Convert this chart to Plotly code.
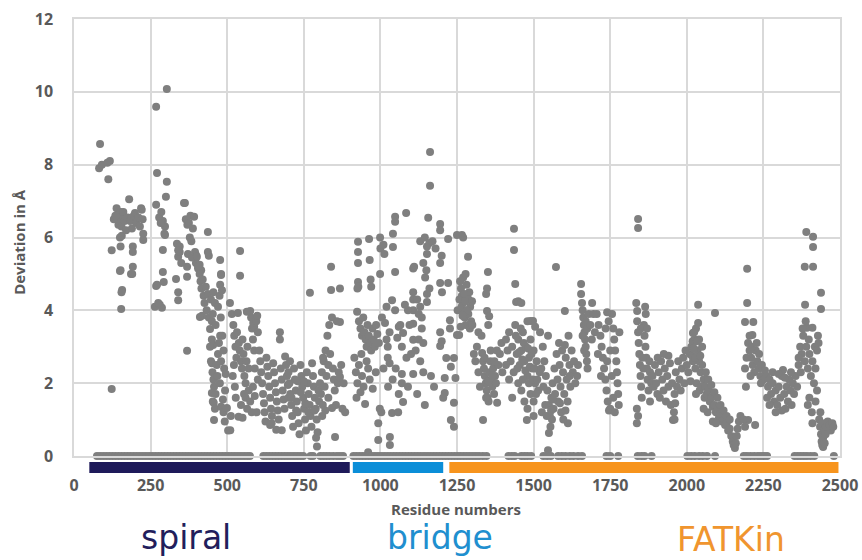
import plotly.graph_objects as go

# ---------------- data ----------------
# (residue number, deviation in Å)
spiral_pts = [
    (82, 7.9), (85, 8.57), (91, 8.0), (109, 8.05), (117, 8.1), (112, 7.6), (123, 1.84),
    (139, 6.8), (142, 6.6), (145, 6.35), (148, 6.5), (152, 6.7), (155, 6.3), (158, 6.6), (161, 6.7),
    (150, 6.0), (152, 5.75), (156, 6.05), (165, 6.45), (170, 6.2), (175, 6.55), (180, 7.05),
    (183, 6.45), (186, 6.5), (189, 6.25), (192, 5.75), (192, 5.6), (195, 6.6), (199, 6.67),
    (203, 6.4), (210, 6.55), (215, 6.3), (219, 6.8), (221, 6.76), (224, 6.5), (226, 6.1),
    (226, 5.93), (123, 5.65), (130, 6.5), (135, 6.6), (150, 5.08), (152, 5.1), (157, 4.56),
    (155, 4.5), (154, 4.04), (192, 5.2), (186, 5.0), (190, 5.0),
    (268, 9.59), (303, 10.08), (271, 7.77), (303, 7.53), (300, 7.12), (268, 6.9), (278, 6.55),
    (285, 6.7), (290, 6.45), (297, 6.3), (295, 6.1), (297, 6.07), (283, 6.4), (290, 5.66),
    (290, 5.05), (293, 4.78), (268, 4.67), (271, 4.7), (264, 4.1), (280, 4.15), (287, 4.07), (275, 4.2),
    (359, 6.95), (365, 6.5), (370, 6.35), (375, 6.4), (380, 6.6), (392, 6.57), (388, 6.25),
    (378, 6.0), (383, 5.9), (372, 5.55), (336, 5.83), (340, 5.47), (345, 5.6), (333, 4.86),
    (340, 4.5), (340, 4.28), (369, 5.2), (369, 4.92), (369, 2.89), (398, 5.52), (398, 5.3),
    (395, 5.6), (385, 5.45), (405, 5.15), (350, 5.3), (345, 5.75), (340, 5.65), (362, 6.95),
    (401, 5.47), (410, 5.25), (415, 5.1),
    (405, 5.2), (410, 5.0), (413, 4.8), (416, 4.6), (420, 4.85), (423, 4.4), (426, 4.2),
    (430, 4.65), (433, 4.0), (437, 6.15), (437, 4.45), (437, 5.6), (440, 5.5), (440, 3.8), (418, 3.85),
    (411, 3.82), (444, 3.49), (447, 4.3), (450, 3.7), (450, 3.2), (453, 3.9), (455, 4.5), (460, 4.2),
    (462, 3.6), (477, 5.38), (480, 5.0), (480, 4.97), (477, 4.7), (475, 4.4), (470, 4.1), (483, 4.55),
    (477, 3.3), (479, 3.8), (454, 3.05),
    (444, 3.0), (447, 2.6), (450, 2.55), (452, 2.3), (455, 2.1), (457, 1.9), (450, 1.73),
    (453, 1.5), (456, 1.46), (460, 1.3), (457, 0.99), (462, 1.7), (466, 2.5), (468, 2.2),
    (470, 2.8), (473, 3.1), (476, 2.0), (480, 2.6), (484, 3.3), (488, 2.9), (490, 2.4),
    (493, 1.8), (495, 2.25), (480, 1.35), (486, 1.55), (492, 0.95), (488, 1.2), (499, 1.32),
    (503, 0.7), (510, 0.71), (512, 1.1), (509, 4.2), (515, 3.9), (520, 3.6), (523, 3.3),
    (527, 3.0), (530, 2.7), (535, 3.93), (532, 3.4), (538, 3.1), (541, 2.9), (545, 2.6),
    (548, 2.4), (542, 5.63), (542, 4.95), (537, 1.08), (518, 2.2), (522, 2.5), (525, 1.9),
    (550, 3.2), (553, 2.8), (556, 2.2), (560, 2.0), (563, 2.6), (566, 3.0), (570, 2.4),
    (575, 3.98), (578, 3.8), (581, 3.5), (584, 3.2), (588, 3.55), (588, 2.9), (590, 2.4),
    (564, 3.96), (585, 3.65), (595, 3.7), (598, 3.85), (600, 3.4), (560, 1.6), (565, 1.3),
    (570, 1.8), (575, 1.5), (580, 1.2), (584, 1.9), (590, 1.65), (596, 1.2), (550, 1.05),
    (545, 1.4), (555, 1.7), (528, 1.6), (600, 2.1),
    (605, 2.9), (608, 2.6), (611, 2.3), (614, 2.0), (617, 1.7), (620, 1.45), (622, 1.2),
    (625, 0.95), (628, 2.7), (631, 2.45), (634, 2.2), (637, 1.9), (640, 1.6), (643, 1.3),
    (646, 1.1), (650, 2.55), (653, 2.3), (656, 2.0), (659, 1.75), (662, 1.5), (665, 1.25),
    (668, 1.0), (672, 3.4), (672, 3.2), (675, 2.4), (678, 2.1), (681, 1.8), (684, 1.55),
    (687, 1.3), (689, 2.73), (692, 2.5), (695, 2.2), (698, 1.95), (660, 0.72), (640, 0.85),
    (678, 0.71), (700, 1.6), (645, 0.9),
    (700, 2.3), (703, 2.0), (706, 1.7), (709, 1.4), (712, 1.1), (715, 0.8), (718, 2.4),
    (721, 2.1), (724, 1.8), (727, 1.5), (730, 1.2), (733, 0.9), (736, 0.6), (739, 2.5),
    (742, 2.2), (745, 1.9), (748, 1.6), (751, 1.3), (754, 1.0), (757, 0.7), (760, 2.3),
    (763, 2.0), (766, 1.7), (769, 1.4), (770, 4.48), (772, 1.1), (775, 0.8), (777, 2.55),
    (780, 2.2), (783, 1.9), (786, 1.6), (789, 1.3), (792, 1.0), (793, 0.26), (795, 0.65),
    (798, 1.8), (800, 1.5), (710, 1.6), (725, 1.25), (740, 1.75), (755, 1.45), (765, 1.2),
    (785, 1.25), (790, 0.5), (705, 2.6), (730, 2.05), (750, 2.05),
    (803, 2.0), (806, 1.7), (809, 2.3), (812, 1.4), (815, 2.6), (818, 1.9), (821, 2.9),
    (824, 2.2), (827, 3.3), (830, 2.5), (833, 3.6), (836, 2.8), (839, 5.2), (839, 4.56),
    (842, 3.8), (845, 2.4), (848, 2.1), (851, 1.8), (852, 0.52), (855, 1.4), (858, 3.7),
    (861, 2.0), (864, 2.3), (868, 4.6), (868, 3.68), (868, 2.17), (872, 2.5), (876, 1.3),
    (880, 2.0), (885, 1.2), (810, 1.1), (820, 1.25), (830, 1.6), (842, 1.32), (813, 2.7),
]

bridge_pts = [
    (927, 5.88), (927, 5.6), (927, 5.3), (927, 4.78), (925, 4.6), (963, 5.96), (965, 5.38),
    (968, 4.85), (970, 4.65), (999, 6.0), (1000, 5.7), (999, 5.0), (924, 3.96), (928, 4.65),
    (930, 3.7), (935, 3.5), (940, 3.3), (944, 3.8), (948, 3.4), (952, 3.2), (955, 3.0),
    (958, 3.6), (962, 3.3), (966, 3.1), (970, 2.9), (974, 3.5), (978, 3.2), (982, 3.0),
    (986, 3.6), (990, 3.35), (995, 3.1), (920, 2.3), (925, 2.0), (930, 2.5), (935, 1.75),
    (940, 2.2), (945, 1.9), (950, 1.43), (955, 2.6), (960, 2.4), (965, 2.1), (975, 1.85),
    (985, 2.3), (993, 0.9), (993, 0.44), (998, 1.3), (1003, 1.2), (960, 0.1), (915, 2.7),
    (922, 1.6), (938, 2.8), (1005, 3.8), (1020, 4.1),
    (1010, 5.8), (1013, 5.55), (1041, 5.74), (1041, 6.1), (1048, 6.57), (1048, 6.43), (1084, 6.67),
    (1107, 4.5), (1107, 4.3), (1048, 5.05), (1038, 4.28), (1048, 4.0), (1074, 3.38),
    (1107, 3.63), (1107, 4.0), (1090, 4.0), (1060, 3.55), (1030, 3.4), (1020, 3.2),
    (1055, 3.25), (1065, 3.6), (1070, 3.0), (1024, 3.0), (1024, 2.7), (1030, 2.55),
    (1010, 2.4), (1070, 2.0), (1070, 2.25), (1107, 2.25), (1107, 3.19), (1025, 1.9),
    (1074, 1.48), (1038, 1.18), (1058, 1.2), (1031, 0.52), (1031, 0.3), (1015, 3.65),
    (1080, 4.15), (1095, 3.6), (1085, 2.7), (1050, 2.4), (1040, 2.1), (1060, 1.7),
    (1090, 1.9), (1100, 2.8), (1107, 5.15),
    (1162, 8.35), (1162, 7.42), (1156, 6.54), (1195, 6.37), (1195, 6.2), (1152, 5.75),
    (1160, 5.85), (1170, 5.9), (1152, 5.55), (1221, 5.96), (1200, 5.5), (1195, 5.3),
    (1180, 5.7), (1146, 4.9), (1150, 5.1), (1195, 4.75), (1221, 4.75), (1152, 4.23),
    (1152, 4.45), (1160, 4.6), (1201, 4.5), (1195, 3.4), (1195, 3.02), (1200, 3.15),
    (1227, 3.73), (1227, 3.5), (1215, 2.69), (1240, 2.69), (1230, 2.45), (1210, 2.14),
    (1245, 2.14), (1210, 1.73), (1205, 1.6), (1240, 1.46), (1230, 0.99), (1240, 0.8),
    (1120, 4.3), (1130, 4.1), (1125, 3.9), (1135, 3.5), (1140, 3.1), (1125, 3.2),
    (1115, 2.9), (1130, 2.6), (1140, 2.3), (1120, 1.7), (1145, 1.4), (1135, 3.8),
    (1110, 5.2), (1140, 5.3), (1165, 2.2), (1175, 1.9), (1130, 5.9), (1145, 6.0),
]

fatkin_pts = [
    (1250, 6.07), (1266, 6.07), (1270, 6.0), (1286, 5.47), (1260, 4.8), (1263, 4.6),
    (1266, 4.4), (1269, 4.2), (1272, 4.0), (1275, 3.8), (1278, 3.6), (1281, 4.7),
    (1284, 4.3), (1287, 3.9), (1290, 4.5), (1293, 4.1), (1296, 3.7), (1299, 4.25),
    (1262, 3.55), (1270, 4.9), (1250, 3.32), (1257, 3.32), (1292, 3.5), (1300, 3.6),
    (1278, 5.0), (1258, 4.3), (1252, 4.0), (1265, 4.1), (1274, 4.45), (1282, 4.0),
    (1288, 4.3), (1276, 4.25), (1268, 3.85),
    (1351, 5.05), (1348, 4.6), (1345, 4.45), (1348, 3.98), (1355, 3.84), (1352, 3.6),
    (1332, 2.83), (1335, 2.6), (1338, 2.4), (1341, 2.2), (1344, 2.0), (1347, 1.8),
    (1350, 1.6), (1353, 1.5), (1356, 2.3), (1359, 2.6), (1362, 2.1), (1365, 1.9),
    (1368, 2.4), (1371, 1.7), (1374, 2.2), (1377, 2.0), (1381, 1.46), (1335, 0.99),
    (1345, 1.6), (1310, 2.6), (1315, 3.0), (1320, 2.3), (1325, 1.9), (1305, 2.8),
    (1385, 2.5), (1390, 2.8), (1395, 3.1), (1398, 2.3), (1320, 3.4), (1330, 3.3),
    (1360, 2.9), (1380, 2.9), (1340, 2.7), (1352, 2.05), (1366, 2.2), (1372, 2.6),
    (1436, 6.24), (1436, 5.66), (1440, 4.72), (1443, 4.23), (1450, 4.25), (1460, 4.2),
    (1498, 3.71), (1490, 3.71), (1480, 3.7), (1505, 3.55), (1410, 3.2), (1415, 2.9),
    (1420, 3.4), (1425, 2.6), (1430, 3.0), (1435, 2.3), (1440, 3.6), (1445, 2.8),
    (1450, 3.2), (1455, 2.5), (1460, 2.9), (1465, 3.4), (1470, 2.6), (1475, 3.0),
    (1480, 2.2), (1485, 2.7), (1490, 3.2), (1495, 2.4), (1500, 2.9), (1505, 2.0),
    (1510, 2.6), (1515, 1.8), (1478, 0.99), (1470, 1.5), (1480, 1.3), (1460, 1.8),
    (1450, 2.0), (1430, 1.6), (1420, 2.1), (1490, 1.7), (1500, 1.5), (1410, 2.5),
    (1520, 2.3), (1500, 1.1), (1465, 2.1), (1485, 2.0), (1442, 3.3), (1447, 2.4),
    (1453, 2.85), (1458, 3.5), (1463, 2.65), (1468, 3.1), (1473, 2.35), (1482, 2.95),
    (1488, 2.45), (1493, 2.8), (1497, 2.1), (1503, 2.4), (1508, 1.7), (1512, 2.1),
    (1521, 3.4), (1530, 3.0), (1535, 2.6), (1540, 2.2), (1545, 1.8), (1547, 3.3),
    (1550, 1.4), (1553, 1.1), (1555, 0.8), (1550, 0.63), (1558, 1.6), (1560, 1.0),
    (1562, 2.0), (1565, 1.3), (1568, 2.4), (1570, 1.7), (1573, 5.19), (1575, 2.8),
    (1578, 2.1), (1580, 1.5), (1583, 3.1), (1585, 2.5), (1588, 1.9), (1590, 1.2),
    (1593, 2.9), (1596, 2.3), (1600, 1.7), (1602, 3.98), (1602, 3.05), (1605, 2.7),
    (1608, 2.1), (1611, 1.5), (1614, 3.3), (1617, 2.5), (1620, 1.9), (1624, 2.9),
    (1628, 2.3), (1632, 2.6), (1636, 2.0), (1642, 2.2), (1645, 2.5), (1525, 2.4),
    (1532, 1.9), (1538, 1.4), (1547, 0.16), (1527, 1.2), (1612, 0.9), (1597, 1.0),
    (1543, 1.1), (1557, 1.25), (1563, 1.55), (1586, 1.45), (1604, 1.25), (1618, 2.2),
    (1655, 4.72), (1655, 4.45), (1658, 4.2), (1660, 4.0), (1662, 3.8), (1664, 3.6),
    (1666, 3.4), (1668, 3.2), (1670, 3.0), (1672, 2.8), (1674, 2.6), (1676, 2.4),
    (1660, 3.3), (1665, 2.9), (1670, 3.7), (1675, 3.5), (1680, 3.9), (1691, 4.2),
    (1685, 3.6), (1690, 3.2), (1695, 3.9), (1700, 3.4),
    (1706, 3.9), (1712, 3.6), (1718, 3.3), (1722, 3.0), (1726, 2.7), (1730, 2.4),
    (1734, 2.1), (1738, 1.8), (1742, 1.5), (1746, 1.25), (1756, 3.9), (1760, 3.5),
    (1763, 3.2), (1766, 2.9), (1770, 2.6), (1772, 2.3), (1774, 2.0), (1776, 1.7),
    (1778, 1.4), (1745, 3.7), (1735, 3.5), (1750, 2.9), (1740, 2.6), (1755, 2.2),
    (1760, 1.6), (1750, 1.3), (1720, 2.2), (1710, 2.8), (1765, 1.2), (1780, 3.4),
    (1740, 3.95),
    (1841, 6.51), (1841, 6.26), (1835, 4.2), (1838, 3.98), (1864, 4.1), (1866, 3.9),
    (1838, 3.7), (1841, 3.4), (1843, 3.1), (1845, 2.8), (1847, 2.5), (1849, 2.2),
    (1851, 1.9), (1853, 1.6), (1837, 1.3), (1837, 0.9), (1841, 1.1), (1860, 3.6),
    (1862, 3.3), (1865, 3.0), (1868, 2.7), (1870, 2.4), (1872, 2.1), (1875, 1.8),
    (1878, 2.6), (1880, 2.3), (1884, 2.0), (1855, 2.7), (1858, 2.4), (1850, 3.5),
    (1870, 3.5), (1880, 1.5),
    (1888, 2.2), (1892, 1.9), (1896, 2.5), (1900, 2.0), (1904, 1.7), (1908, 2.3),
    (1912, 1.6), (1916, 2.6), (1920, 2.1), (1924, 1.8), (1928, 2.4), (1932, 1.5),
    (1936, 2.2), (1940, 1.9), (1945, 2.55), (1948, 1.4), (1952, 2.0), (1955, 0.99),
    (1958, 1.2), (1960, 1.7), (1964, 2.3), (1968, 1.9), (1972, 2.6), (1976, 2.1),
    (1980, 1.8), (1984, 2.4), (1988, 2.7), (1992, 2.0), (1996, 2.9), (2000, 2.5),
    (1960, 1.0), (1962, 1.45), (1940, 2.75), (1925, 2.8), (1905, 2.7),
    (2020, 3.38), (2025, 3.2), (2015, 3.0), (2030, 3.5), (2037, 4.15), (2037, 3.65),
    (2010, 2.8), (2035, 2.9), (2040, 2.6), (2045, 2.3), (2050, 2.5), (2055, 2.1),
    (2005, 2.3), (2012, 2.05), (2020, 2.6), (2028, 2.4), (2032, 2.0), (2042, 1.8),
    (2048, 1.9), (2058, 1.6), (2019, 3.15), (2024, 3.4), (2040, 3.2), (2050, 3.0),
    (2030, 1.7), (2017, 2.75), (2023, 2.95), (2033, 3.15), (2027, 2.7), (2044, 2.75),
    (2060, 1.9), (2065, 1.7), (2070, 1.8), (2075, 1.5), (2080, 1.6), (2085, 1.35),
    (2090, 1.4), (2092, 3.93), (2095, 1.2), (2100, 1.3), (2105, 1.05), (2110, 1.15),
    (2115, 0.95), (2120, 1.0), (2125, 0.85), (2130, 0.9), (2135, 0.7), (2140, 0.75),
    (2145, 0.55), (2150, 0.4), (2153, 0.3), (2157, 0.22), (2160, 0.35), (2163, 0.55),
    (2166, 0.75), (2170, 0.95), (2175, 1.1), (2070, 2.1), (2080, 1.95), (2090, 1.75),
    (2100, 1.6), (2110, 1.4), (2120, 1.25), (2062, 2.3), (2068, 1.2), (2085, 0.95),
    (2130, 1.1), (2095, 0.9), (2140, 1.0), (2055, 1.3),
    (2197, 5.14), (2197, 4.2), (2190, 3.68), (2217, 3.68), (2214, 3.32), (2200, 3.1),
    (2205, 2.9), (2210, 2.7), (2215, 2.5), (2220, 2.3), (2225, 2.9), (2230, 2.6),
    (2235, 2.4), (2240, 2.2), (2245, 2.5), (2250, 2.1), (2195, 2.7), (2190, 2.4),
    (2193, 1.9), (2200, 0.99), (2223, 0.85), (2205, 3.3), (2212, 3.0), (2228, 3.1),
    (2236, 2.8), (2242, 2.0), (2185, 1.0), (2190, 0.8), (2255, 2.35), (2208, 2.2),
    (2260, 2.2), (2265, 1.9), (2270, 2.1), (2275, 1.7), (2280, 2.0), (2285, 1.5),
    (2290, 1.8), (2295, 1.4), (2300, 1.9), (2305, 1.6), (2310, 2.2), (2314, 2.36),
    (2318, 1.7), (2322, 1.3), (2326, 1.9), (2330, 1.5), (2334, 2.1), (2338, 1.8),
    (2342, 1.4), (2346, 2.0), (2350, 1.7), (2355, 2.2), (2360, 1.9), (2365, 2.5),
    (2270, 1.4), (2290, 1.2), (2310, 1.25), (2280, 2.3), (2300, 2.25), (2320, 2.15),
    (2340, 2.3), (2262, 1.6),
    (2390, 6.15), (2412, 6.02), (2412, 5.74), (2385, 5.2), (2412, 5.2), (2438, 4.48),
    (2438, 4.04), (2386, 4.15), (2392, 3.52), (2410, 3.52), (2428, 3.3), (2430, 3.1),
    (2370, 3.0), (2375, 2.8), (2380, 3.3), (2385, 2.6), (2390, 3.0), (2395, 2.4),
    (2400, 2.8), (2405, 2.2), (2410, 2.6), (2415, 2.0), (2420, 2.4), (2425, 1.8),
    (2365, 2.7), (2372, 2.3), (2398, 3.2), (2418, 3.0), (2425, 2.9), (2400, 1.6),
    (2408, 1.2), (2410, 0.9), (2395, 1.4), (2420, 1.5), (2388, 3.7), (2378, 3.5),
    (2432, 1.0), (2435, 0.8), (2438, 0.6), (2440, 0.4), (2442, 0.3), (2445, 0.5),
    (2448, 0.7), (2450, 0.9), (2453, 0.6), (2456, 0.8), (2460, 0.95), (2465, 0.85),
    (2470, 0.7), (2475, 0.9), (2478, 0.8), (2445, 0.25), (2450, 0.35), (2436, 1.2),
]

# residues whose deviation is 0
zero_res = [
    75, 85, 95, 105, 115, 125, 135, 145, 155, 165, 175, 185, 195, 205, 215, 225, 235, 245,
    255, 265, 275, 285, 295, 305, 315, 325, 335, 345, 355, 365, 375, 385, 395, 405, 415,
    425, 435, 445, 455, 465, 475, 485, 495, 505, 515, 525, 535, 545, 555, 565, 574,
    618, 628, 638, 648, 658, 668, 678, 688, 698, 708, 718, 728, 738, 748,
    772, 780,
    804, 814, 824, 834, 846, 858, 868, 878,
    912, 922, 932, 942, 952, 962, 972, 982, 992, 1002, 1012, 1022, 1032, 1042, 1052, 1062,
    1072, 1082, 1092, 1102, 1112, 1122, 1132, 1142, 1152, 1162, 1172, 1182, 1192, 1202,
    1212, 1222, 1232, 1242, 1252, 1262, 1272, 1282, 1292, 1302, 1312, 1322, 1334, 1346,
    1418, 1428, 1438, 1460, 1470, 1480, 1492,
    1532, 1544, 1556, 1580, 1592, 1604, 1618, 1630, 1645, 1658,
    1738, 1750, 1776,
    1840, 1852, 1862, 1885,
    2002, 2014, 2026, 2040, 2052, 2066, 2092,
    2186, 2196, 2208, 2220, 2232, 2242, 2252, 2262,
    2352, 2362, 2372, 2382, 2392, 2404, 2416,
    2480,
]

x_ticks = [0, 250, 500, 750, 1000, 1250, 1500, 1750, 2000, 2250, 2500]
y_ticks = [0, 2, 4, 6, 8, 10, 12]

# domains: (name, start residue, end residue, bar colour, text colour)
domains = [
    ("spiral", 50, 900, "#1e1a5a", "#221e5c"),
    ("bridge", 910, 1205, "#0b8ed8", "#1f8fcf"),
    ("FATKin", 1225, 2495, "#f7941d", "#f0952e"),
]
domain_label_x = [366, 1195, 2145]   # label centres in residue units
domain_label_y = [-0.186, -0.186, -0.190]  # paper coords

# ---------------- figure ----------------
all_pts = spiral_pts + bridge_pts + fatkin_pts
xs = [p[0] for p in all_pts] + list(zero_res)
ys = [p[1] for p in all_pts] + [0.0] * len(zero_res)

fig = go.Figure()
fig.add_trace(go.Scatter(
    x=xs, y=ys, mode="markers",
    marker=dict(color="#7f7f7f", size=8, line=dict(width=0)),
    cliponaxis=False, showlegend=False, hoverinfo="skip",
))

grid = "#d9d9d9"
tickfont = dict(family="Open Sans", size=16, color="#595959", weight="bold")

fig.update_layout(
    template="none",
    width=862, height=560,
    margin=dict(l=74, r=22, t=19, b=104, autoexpand=False),
    paper_bgcolor="white", plot_bgcolor="white",
    xaxis=dict(
        range=[0, 2500], tickvals=x_ticks, ticktext=[str(v) for v in x_ticks],
        automargin=False,
        showgrid=True, gridcolor=grid, gridwidth=1.5,
        showline=True, mirror=True, linecolor=grid, linewidth=1.5,
        zeroline=False, ticks="outside", ticklen=14, tickcolor="rgba(0,0,0,0)",
        tickfont=tickfont,
    ),
    yaxis=dict(
        range=[0, 12], tickvals=y_ticks, automargin=False,
        showgrid=True, gridcolor=grid, gridwidth=1.5,
        showline=True, mirror=True, linecolor=grid, linewidth=1.5,
        zeroline=False, ticks="outside", ticklen=16, tickcolor="rgba(0,0,0,0)",
        tickfont=tickfont,
    ),
)

shapes = []
annotations = []
for (name, r0, r1, bar_col, txt_col), lx, ly in zip(domains, domain_label_x, domain_label_y):
    shapes.append(dict(type="rect", xref="x", yref="paper", x0=r0, x1=r1,
                       y0=-0.0389, y1=-0.0137, fillcolor=bar_col, line=dict(width=0)))
    annotations.append(dict(text=name, xref="x", yref="paper", x=lx, y=ly,
                            xanchor="center", yanchor="middle", showarrow=False,
                            font=dict(family="DejaVu Sans", size=33, color=txt_col)))

annotations.append(dict(text="Residue numbers", xref="paper", yref="paper", x=0.499, y=-0.1210,
                        xanchor="center", yanchor="middle", showarrow=False,
                        font=dict(family="Open Sans", size=15, color="#595959", weight="bold")))
annotations.append(dict(text="Deviation in Å", xref="paper", yref="paper", x=-0.0718, y=0.49,
                        xanchor="center", yanchor="middle", showarrow=False, textangle=-90,
                        font=dict(family="Open Sans", size=15, color="#595959", weight="bold")))

fig.update_layout(shapes=shapes, annotations=annotations)
fig.write_html("out.html")
